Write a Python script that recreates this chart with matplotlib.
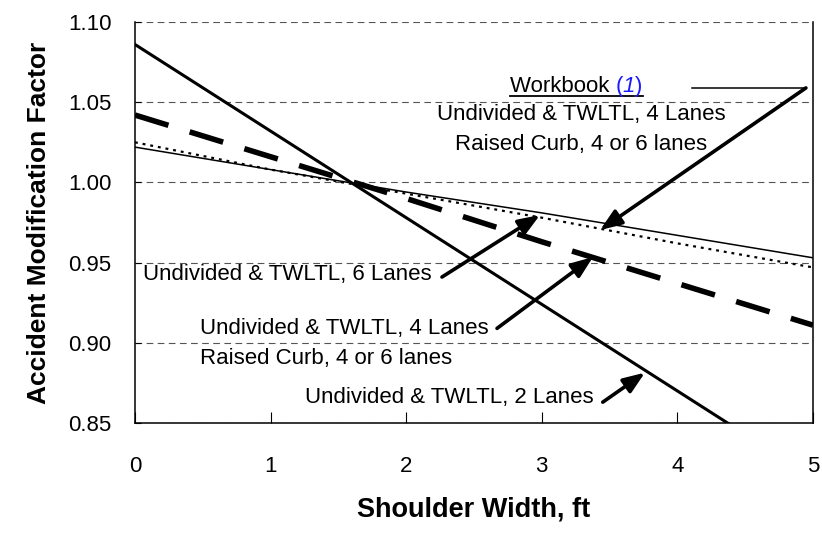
import matplotlib.pyplot as plt
from matplotlib.lines import Line2D

plt.rcParams['font.family'] = ['Liberation Sans', 'DejaVu Sans']

# shoulder width (ft) and accident modification factors
shoulder = [0, 1, 2, 3, 4, 5]
amf_2_lanes = [1.086, 1.032, 0.978, 0.924, 0.870, 0.816]
amf_4_lanes = [1.042, 1.016, 0.990, 0.963, 0.937, 0.911]
amf_6_lanes = [1.022, 1.008, 0.994, 0.981, 0.967, 0.953]
amf_workbook = [1.025, 1.008, 0.993, 0.978, 0.962, 0.947]

xticks = [0, 1, 2, 3, 4, 5]
yticks = [0.85, 0.90, 0.95, 1.00, 1.05, 1.10]

fig = plt.figure(figsize=(8.22, 5.5), dpi=100)
ax = fig.add_axes([0.1642, 0.2309, 0.8248, 0.7291])

ax.plot(shoulder, amf_2_lanes, color='black', lw=2.2, zorder=3)
ax.plot(shoulder, amf_4_lanes, color='black', lw=4, dashes=(6.3, 4), zorder=3)
ax.plot(shoulder, amf_6_lanes, color='black', lw=1.1, zorder=3)
ax.plot(shoulder, amf_workbook, color='black', lw=1.6, dashes=(1.3, 2.2), zorder=3)

ax.set_xlim(0, 5)
ax.set_ylim(0.85, 1.10)
ax.set_xticks(xticks)
ax.set_yticks(yticks)
ax.set_yticklabels([f'{v:.2f}' for v in yticks])
ax.yaxis.grid(True, color='#555555', lw=0.8, dashes=(6, 4))
ax.set_axisbelow(True)
ax.spines['top'].set_visible(False)
for s in ['left', 'right', 'bottom']:
    ax.spines[s].set_linewidth(1.1)
ax.tick_params(axis='x', direction='in', length=8, width=0.8, pad=24, labelsize=16)
ax.tick_params(axis='y', direction='in', length=4, width=0.8, pad=17, labelsize=16)

ax.set_xlabel('Shoulder Width, ft', fontsize=19.5, fontweight='bold', labelpad=14)
ax.set_ylabel('Accident Modification Factor', fontsize=19, fontweight='bold', labelpad=12)

fs = 16
arrow = dict(arrowstyle='-|>,head_length=13,head_width=5', mutation_scale=1,
             lw=2.6, color='black', shrinkA=0, shrinkB=0)

# Workbook (1) label with leader
t1 = ax.text(2.765, 1.0564, 'Workbook ', fontsize=fs, ha='left', va='baseline')
t2 = ax.annotate('(', xy=(1, 0), xycoords=t1, fontsize=fs, color='#1a1aff', va='bottom')
t3 = ax.annotate('1', xy=(1, 0), xycoords=t2, fontsize=fs, color='#1a1aff',
                 style='italic', va='bottom')
t4 = ax.annotate(')', xy=(1, 0), xycoords=t3, fontsize=fs, color='#1a1aff', va='bottom')
fig.canvas.draw()
inv = ax.transData.inverted()
b1 = t1.get_window_extent()
b3 = t3.get_window_extent()
b4 = t4.get_window_extent()
x_left = inv.transform((b1.x0, b1.y0))[0]
x_mid = inv.transform((b3.x1 - 1, b3.y0))[0]
x_gap = inv.transform((b4.x0 + 1, b4.y0))[0]
x_right = inv.transform((b4.x1, b4.y0))[0]
ax.add_line(Line2D([x_left, x_mid], [1.0539, 1.0539], color='black', lw=1.3))
ax.add_line(Line2D([x_gap, x_right], [1.0539, 1.0539], color='black', lw=1.3))

ax.plot([4.108, 4.948], [1.0589, 1.0589], color='black', lw=1.1)
ax.annotate('', xy=(3.43, 0.9703), xytext=(4.948, 1.0589), arrowprops=arrow)
ax.text(3.29, 1.0425, 'Undivided & TWLTL, 4 Lanes', fontsize=fs, ha='center', va='center')
ax.text(3.29, 1.0235, 'Raised Curb, 4 or 6 lanes', fontsize=fs, ha='center', va='center')

# 6 lanes
ax.text(0.059, 0.9423, 'Undivided & TWLTL, 6 Lanes', fontsize=fs, ha='left', va='center')
ax.annotate('', xy=(2.987, 0.9797), xytext=(2.264, 0.941), arrowprops=arrow)

# 4 lanes / raised curb
ax.text(0.479, 0.9092, 'Undivided & TWLTL, 4 Lanes', fontsize=fs, ha='left', va='center')
ax.text(0.479, 0.8905, 'Raised Curb, 4 or 6 lanes', fontsize=fs, ha='left', va='center')
ax.annotate('', xy=(3.378, 0.9535), xytext=(2.67, 0.909), arrowprops=arrow)

# 2 lanes
ax.text(1.254, 0.8656, 'Undivided & TWLTL, 2 Lanes', fontsize=fs, ha='left', va='center')
ax.annotate('', xy=(3.761, 0.8814), xytext=(3.45, 0.863), arrowprops=arrow)

fig.savefig('out.png', dpi=100)
